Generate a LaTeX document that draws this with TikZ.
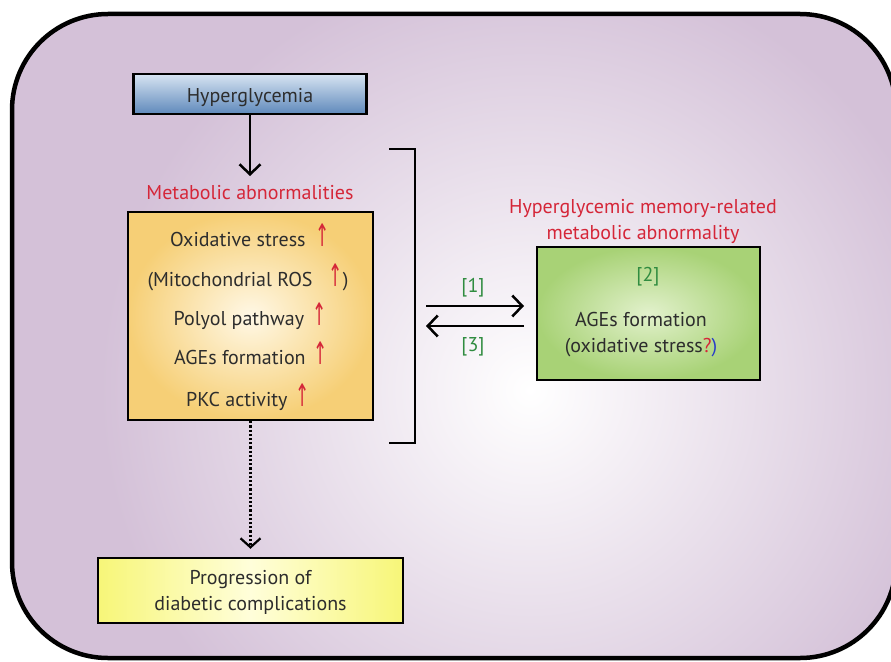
\documentclass[tikz,border=0pt]{standalone}
\usepackage{fontspec}
\setmainfont{PT Sans}
\newfontfamily\symfont{DejaVu Sans}
\usetikzlibrary{arrows.meta}
\definecolor{bgpurple}{RGB}{212,193,216}
\definecolor{ortout}{RGB}{246,207,118}
\definecolor{ortin}{RGB}{255,248,230}
\definecolor{grout}{RGB}{168,210,118}
\definecolor{grin}{RGB}{226,241,204}
\definecolor{ylout}{RGB}{247,246,120}
\definecolor{ylin}{RGB}{255,254,218}
\definecolor{bltop}{RGB}{215,228,242}
\definecolor{blbot}{RGB}{95,137,187}
\definecolor{redtxt}{RGB}{213,38,56}
\definecolor{grtxt}{RGB}{48,140,64}
\definecolor{darktxt}{RGB}{45,45,45}
\definecolor{bluetxt}{RGB}{40,60,200}
\newcommand{\up}{{\color{redtxt}\symfont\scalebox{0.85}[1.55]{↑}}}
\begin{document}
\begin{tikzpicture}[x=1pt,y=-1pt,
  txt/.style={font=\fontsize{20}{26}\selectfont, text=darktxt, inner sep=0pt, align=center},
  redlbl/.style={txt, text=redtxt},
  grlbl/.style={txt, text=grtxt},
  box/.style={draw=black, line width=2.5pt, inner sep=0pt, txt},
  conn/.style={line width=2.5pt, -{Straight Barb[length=10pt,width=21pt]}},
  dconn/.style={line width=2.2pt, dotted, -{Straight Barb[length=9pt,width=20pt]}}
]
\useasboundingbox (0,0) rectangle (891,661);
% background frame
\begin{scope}
  \clip[rounded corners=96pt] (12,14) rectangle (896,658);
  \fill[bgpurple] (0,0) rectangle (900,661);
  \shade[inner color=white, outer color=bgpurple] (530,390) circle (430pt);
\end{scope}
\draw[line width=4.5pt, rounded corners=96pt] (12,14) rectangle (896,658);

% boxes
\node[box, minimum width=233pt, minimum height=40pt, top color=bltop, bottom color=blbot, draw=black] (hyp) at (250,94) {};
\node[txt, anchor=base] (hyptxt) at (250,102) {Hyperglycemia};
\node[redlbl, anchor=base] (metlbl) at (250,199) {Metabolic abnormalities};
\node[box, minimum width=245pt, minimum height=208pt, inner color=ortin, outer color=ortout, draw=black] (orange) at (250.5,316) {};
\node[txt, anchor=base] (l1) at (250,246) {Oxidative stress\hspace{10pt}\up};
\node[txt, anchor=base] (l2) at (248,286) {(Mitochondrial ROS\hspace{16pt}\up)};
\node[txt, anchor=base] (l3) at (250,325) {Polyol pathway\hspace{8pt}\up};
\node[txt, anchor=base] (l4) at (251,364) {AGEs formation\hspace{8pt}\up};
\node[txt, anchor=base] (l5) at (248,406) {PKC activity\hspace{8pt}\up};

\node[box, minimum width=223pt, minimum height=133pt, inner color=grin, outer color=grout, draw=black] (green) at (648.5,313.5) {};
\node[redlbl] (memlbl) at (643,221) {Hyperglycemic memory-related\\metabolic abnormality};
\node[grlbl] (n2) at (648,277) {[2]};
\node[txt] (ages) at (641,335) {AGEs formation\\(oxidative stress{\color{redtxt}?}{\color{bluetxt})}};

\node[box, minimum width=305pt, minimum height=65pt, left color=ylout, right color=ylout, middle color=ylin, draw=black] (yellow) at (250.5,590.5) {};
\node[txt] (yeltxt) at (250.5,592) {Progression of\\diabetic complications};

% bracket
\draw[line width=2.5pt] (389,149) -| (415,443) -- (389,443);

% connectors
\coordinate (hypend) at (250,176);
\draw[conn] (hyp.south) -- (hypend);
\draw[dconn] (orange.south) -- ([yshift=8pt]yellow.north);

\coordinate (r1s) at (426,306);
\coordinate (r1e) at (524,306);
\coordinate (r3s) at (524,326);
\coordinate (r3e) at (426,326);
\draw[conn] (r1s) -- (r1e);
\draw[conn] (r3s) -- (r3e);
\node[grlbl] (n1) at (473,288) {[1]};
\node[grlbl] (n3) at (473,347) {[3]};
\end{tikzpicture}
\end{document}
